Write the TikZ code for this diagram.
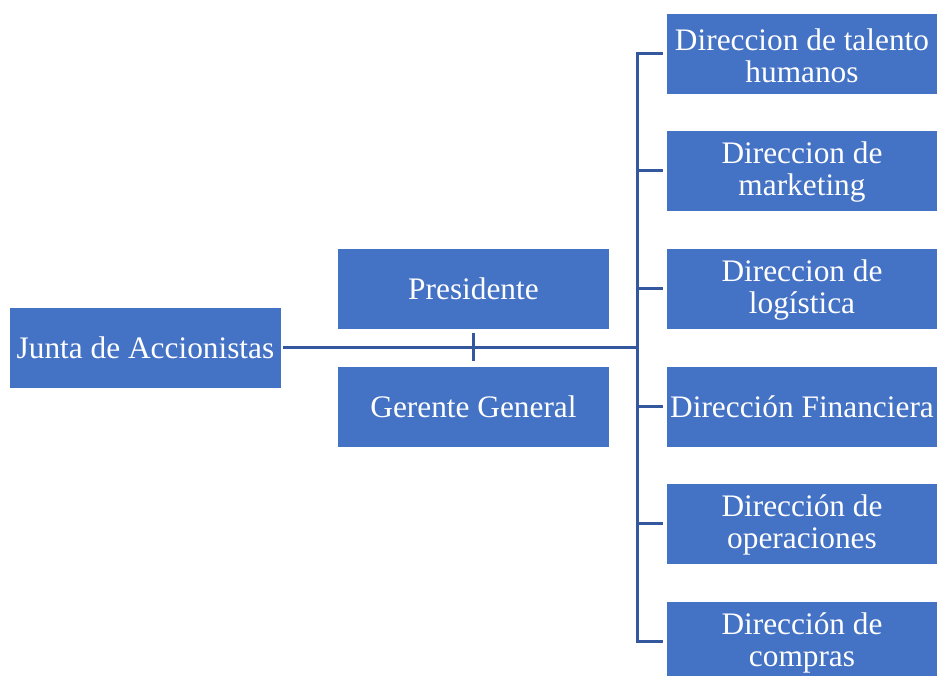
\documentclass[tikz,border=0pt]{standalone}
\usepackage{fontspec}
\setmainfont{Liberation Serif}
\usetikzlibrary{calc}
\definecolor{boxblue}{RGB}{68,114,196}
\definecolor{lineblue}{RGB}{52,88,160}
\newcommand{\fitline}[1]{\makebox[195pt][c]{#1}}
\newcommand{\topstrut}{\rule{0pt}{19pt}}
\tikzset{
  orgbox/.style={fill=boxblue, draw=none, text=white, align=center,
    minimum height=60pt, inner sep=0pt, font=\fontsize{23.5}{24}\selectfont},
  widebox/.style={orgbox, minimum width=203.25pt},
  dirbox/.style={orgbox, minimum width=202.5pt},
  conn/.style={draw=lineblue, line width=2.2pt}
}
\begin{document}
\begin{tikzpicture}[x=0.75pt,y=-0.75pt]
\useasboundingbox (0,0) rectangle (939,675);
\node[widebox] (junta) at (145.5,347.5) {Junta de Accionistas};
\node[widebox] (pres) at (473.5,288.5) {Presidente};
\node[widebox] (ger) at (473.5,406.5) {Gerente General};
\node[dirbox] (d1) at (802,53.5) {\topstrut\fitline{Direccion de talento}\\humanos};
\node[dirbox] (d2) at (802,170.5) {\topstrut Direccion de\\marketing};
\node[dirbox] (d3) at (802,288.5) {\topstrut Direccion de\\logística};
\node[dirbox] (d4) at (802,406.5) {\fitline{Dirección Financiera}};
\node[dirbox] (d5) at (802,523.5) {\topstrut Dirección de\\operaciones};
\node[dirbox] (d6) at (802,641.5) {\topstrut Dirección de\\compras};
\coordinate (bus) at (637.5,0);
\draw[conn] ([xshift=1.5pt]junta.east) -- (bus|-junta.east);
\draw[conn] ([yshift=-3pt]pres.south) -- ([yshift=3.75pt]ger.north);
\draw[conn] ([xshift=-3pt]d1.west) -- (bus|-d1.west) -- (bus|-d6.west) -- ([xshift=-3pt]d6.west);
\foreach \n in {d2,d3,d4,d5}{
  \draw[conn] ([xshift=-3pt]\n.west) -- (bus|-\n.west);
}
\end{tikzpicture}
\end{document}
